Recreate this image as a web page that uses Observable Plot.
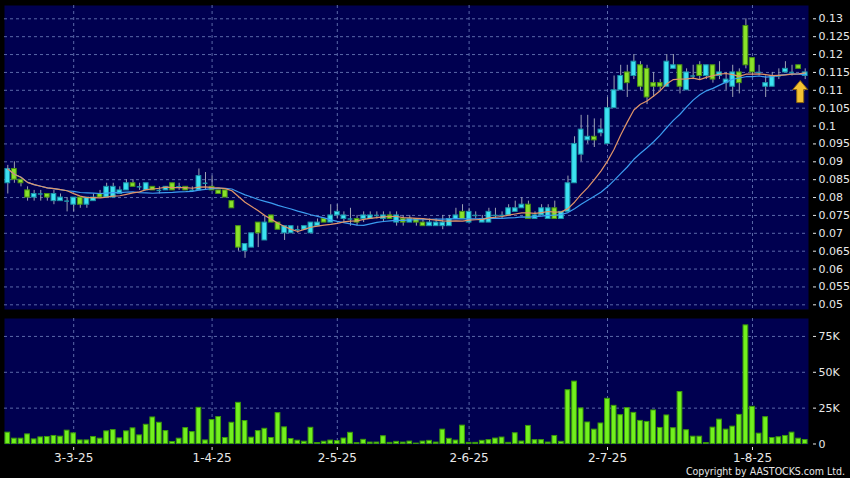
<!DOCTYPE html>
<html><head><meta charset="utf-8">
<script src="https://cdn.jsdelivr.net/npm/d3@7"></script>
<script src="https://cdn.jsdelivr.net/npm/@observablehq/plot@0.6"></script>
<style>
html,body{margin:0;padding:0;background:#000;}
#wrap{position:relative;width:850px;height:478px;background:#000;overflow:hidden;font-family:"DejaVu Sans",sans-serif;}
#wrap svg{display:block;}
#copy{position:absolute;right:5px;top:466px;font-size:10.5px;line-height:11px;color:#e6e6e6;font-family:"DejaVu Sans Condensed","DejaVu Sans",sans-serif;font-stretch:condensed;white-space:nowrap;}
</style></head><body>
<div id="wrap"><div id="price"></div><div id="vol"></div><div id="copy">Copyright by AASTOCKS.com Ltd.</div></div>
<script>
const open = [
.084,.088,.085,.082,.080,.081,.081,.079,.079,.079,
.078,.080,.078,.079,.081,.080,.080,.081,.082,.084,
.083,.082,.083,.082,.082,.084,.083,.083,.082,.082,
.084,.083,.082,.082,.079,.072,.065,.066,.073,.068,
.075,.073,.070,.070,.071,.071,.070,.072,.074,.073,
.075,.074,.074,.074,.074,.074,.075,.074,.075,.073,
.074,.073,.074,.073,.072,.072,.072,.072,.074,.076,
.073,.075,.073,.073,.075,.075,.075,.076,.077,.078,
.074,.075,.074,.077,.074,.076,.084,.092,.096,.097,
.098,.095,.105,.110,.115,.114,.117,.116,.112,.112,
.111,.116,.117,.110,.114,.117,.114,.117,.114,.112,
.111,.115,.128,.119,.115,.111,.111,.114,.115,.115,
.117,.114];
const close = [
.088,.085,.084,.080,.081,.081,.080,.081,.080,.079,
.080,.078,.080,.080,.080,.083,.083,.082,.084,.083,
.083,.084,.082,.082,.083,.082,.083,.082,.082,.086,
.084,.082,.081,.080,.077,.066,.067,.070,.070,.073,
.073,.071,.072,.072,.071,.072,.073,.073,.073,.075,
.076,.075,.074,.073,.075,.075,.075,.075,.074,.075,
.073,.074,.073,.072,.073,.073,.073,.074,.075,.074,
.076,.075,.074,.076,.075,.075,.077,.077,.078,.074,
.075,.077,.077,.074,.076,.084,.095,.099,.097,.096,
.099,.105,.110,.114,.112,.118,.111,.108,.111,.111,
.118,.117,.111,.115,.114,.114,.117,.113,.115,.113,
.115,.112,.117,.115,.115,.112,.114,.114,.116,.115,
.116,.115];
const high = [
.089,.090,.085,.083,.082,.082,.081,.082,.081,.080,
.080,.080,.080,.081,.082,.084,.084,.083,.085,.085,
.084,.084,.083,.083,.083,.084,.084,.083,.083,.088,
.087,.086,.082,.082,.079,.072,.067,.070,.073,.075,
.075,.073,.072,.072,.072,.072,.073,.074,.074,.078,
.078,.076,.077,.075,.076,.076,.076,.076,.076,.076,
.075,.075,.074,.074,.074,.074,.075,.075,.077,.078,
.077,.076,.075,.077,.077,.076,.078,.079,.080,.079,
.076,.078,.078,.079,.076,.086,.097,.103,.103,.102,
.102,.108,.114,.117,.117,.120,.118,.117,.115,.113,
.120,.120,.117,.116,.117,.118,.117,.117,.118,.115,
.117,.116,.130,.119,.117,.114,.115,.116,.118,.117,
.117,.116];
const low = [
.081,.084,.083,.079,.079,.079,.079,.078,.079,.076,
.076,.077,.077,.079,.080,.080,.080,.081,.082,.083,
.082,.082,.082,.081,.082,.082,.082,.082,.082,.082,
.082,.082,.081,.080,.077,.065,.063,.066,.066,.068,
.073,.071,.068,.070,.070,.071,.070,.072,.073,.073,
.074,.073,.072,.072,.073,.074,.074,.073,.074,.072,
.072,.073,.072,.072,.072,.072,.071,.072,.074,.074,
.073,.074,.073,.073,.074,.074,.075,.076,.077,.074,
.074,.075,.074,.074,.074,.076,.084,.090,.095,.094,
.097,.095,.105,.110,.108,.113,.110,.106,.108,.110,
.111,.116,.109,.110,.113,.113,.113,.112,.113,.110,
.108,.109,.116,.114,.114,.108,.111,.113,.115,.114,
.116,.113];
const volume = [
7900,3700,3700,6700,3200,4600,4900,5600,5100,9300,
7400,2500,2500,4900,3700,8800,9700,3900,8800,10900,
6000,13400,18500,14800,9000,1400,3700,11100,8300,25200,
2500,16700,18800,4200,14800,28700,16000,4400,9000,10600,
4200,21500,11600,3500,2300,1600,11300,700,1600,2400,
2000,3800,7800,600,2900,1000,1000,5400,800,1500,
1000,1700,300,1700,2200,1000,10000,3600,2400,12800,
800,800,2200,2700,3800,4500,800,7500,1700,12600,
2700,2700,1000,5600,1500,37500,43500,24800,15000,10000,
14300,31500,26600,20100,25000,21700,16100,15400,23400,11200,
19900,11000,36200,9600,5100,5100,700,11400,17000,10000,
12100,20300,82700,25900,7200,18700,4200,4700,5600,7900,
3700,2800];
const tickIndex = [10, 31, 50, 70, 91, 113];
const tickLabels = ["3-3-25", "1-4-25", "2-5-25", "2-6-25", "2-7-25", "1-8-25"];
const priceTicks = [0.05,0.055,0.06,0.065,0.07,0.075,0.08,0.085,0.09,0.095,0.1,0.105,0.11,0.115,0.12,0.125,0.13];
const volTicks = [0, 25000, 50000, 75000];
const volLabels = ["0", "25K", "50K", "75K"];

const n = open.length;
const data = open.map((o, i) => ({i, open: o, high: high[i], low: low[i], close: close[i], volume: volume[i], up: close[i] >= o}));

const NAVY = "#000050", GRID = "#5a68a8", TXT = "#e8e8e8";
const CY = "#3ce2f2", CYS = "#1c95a8", GR = "#8ae22a", GRS = "#4a9412";
const WICK = "#9ca2b4", VOL = "#72f01e", VOLS = "#3c9a0a";
const MA10 = "#e09468", MA20 = "#3b9cf0";

const xScale = {type: "band", domain: d3.range(n), paddingInner: 0.28, paddingOuter: 0.14, align: 0.5, axis: null};
const style = {background: "transparent", color: TXT, fontFamily: "DejaVu Sans, sans-serif", fontSize: "11px"};

const upArrow = {draw(ctx) {
  ctx.moveTo(0, 0); ctx.lineTo(7.5, 9); ctx.lineTo(3.5, 9); ctx.lineTo(3.5, 22);
  ctx.lineTo(-3.5, 22); ctx.lineTo(-3.5, 9); ctx.lineTo(-7.5, 9); ctx.closePath();
}};

const last = data[n - 1];

const price = Plot.plot({
  width: 850, height: 312,
  marginLeft: 4, marginRight: 42, marginTop: 5, marginBottom: 3,
  style,
  x: xScale,
  y: {domain: [0.04869, 0.13372], axis: null},
  marks: [
    Plot.frame({fill: NAVY}),
    Plot.ruleY(priceTicks, {stroke: GRID, strokeDasharray: "3,3", strokeWidth: 1}),
    Plot.ruleX(tickIndex, {x: d => d, stroke: GRID, strokeDasharray: "3,3", strokeWidth: 1}),
    Plot.axisY({anchor: "right", label: null, ticks: priceTicks, tickFormat: d => String(+d.toFixed(3)), tickSize: 3, tickPadding: 3, dx: 4}),
    Plot.ruleX(data, {x: "i", y1: "low", y2: "high", stroke: WICK, strokeWidth: 1}),
    Plot.barY(data.filter(d => d.open !== d.close), {x: "i", y1: "open", y2: "close",
      fill: d => d.up ? CY : GR, stroke: d => d.up ? CYS : GRS, strokeWidth: 1}),
    Plot.tickY(data.filter(d => d.open === d.close), {x: "i", y: "close", stroke: CYS, strokeWidth: 1.5}),
    Plot.lineY(data, Plot.windowY({k: 20, anchor: "end"}, {x: "i", y: "close", stroke: MA20, strokeWidth: 1.2})),
    Plot.lineY(data, Plot.windowY({k: 10, anchor: "end"}, {x: "i", y: "close", stroke: MA10, strokeWidth: 1.2})),
    Plot.dot([last], {x: "i", y: "low", symbol: upArrow, r: 5, fill: "#f3c232", stroke: "#8a6410", strokeWidth: 1, dx: -5, dy: 1})
  ]
});
document.getElementById("price").appendChild(price);

const vol = Plot.plot({
  width: 850, height: 166,
  marginLeft: 4, marginRight: 42, marginTop: 6, marginBottom: 34,
  style,
  x: xScale,
  y: {domain: [-350, 87500], axis: null},
  marks: [
    Plot.frame({fill: NAVY}),
    Plot.ruleY(volTicks.slice(1), {stroke: GRID, strokeDasharray: "3,3"}),
    Plot.ruleX(tickIndex, {x: d => d, stroke: GRID, strokeDasharray: "3,3"}),
    Plot.barY(data, {x: "i", y: "volume", fill: VOL, stroke: VOLS, strokeWidth: 1}),
    Plot.axisY({anchor: "right", label: null, ticks: volTicks, tickFormat: d => volLabels[volTicks.indexOf(d)], tickSize: 3, tickPadding: 3, dx: 4}),
    Plot.axisX({anchor: "bottom", label: null, ticks: tickIndex, tickFormat: d => tickLabels[tickIndex.indexOf(d)], tickSize: 3, tickPadding: 3, dy: 3, fontSize: 12})
  ]
});
document.getElementById("vol").appendChild(vol);
</script>
</body></html>
